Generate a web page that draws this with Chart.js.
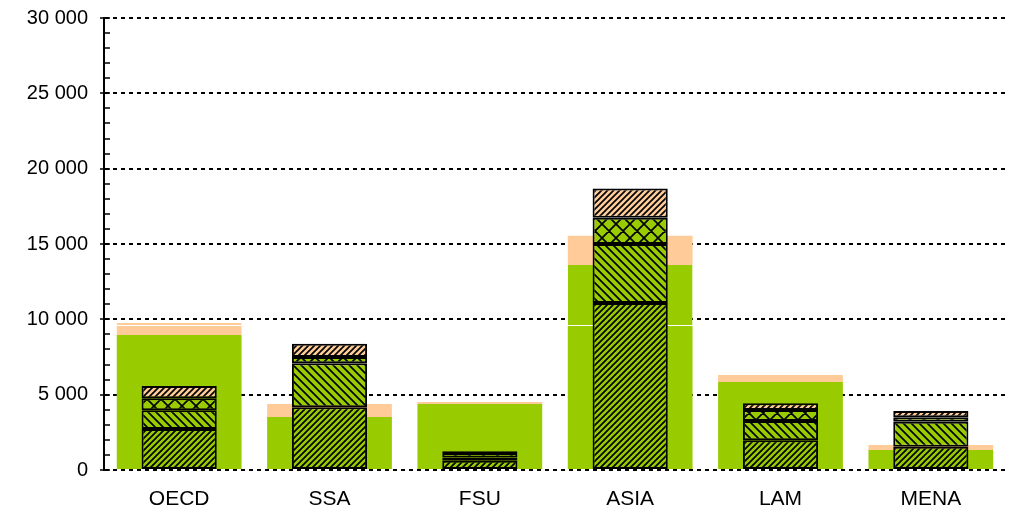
<!DOCTYPE html>
<html>
<head>
<meta charset="utf-8">
<script src="https://cdn.jsdelivr.net/npm/chart.js@4.4.1/dist/chart.umd.min.js"></script>
<style>
  html, body { margin: 0; padding: 0; background: #fff; }
  #wrap { width: 1018px; height: 513px; position: relative; }
</style>
</head>
<body>
<div id="wrap"><canvas id="regions-chart"></canvas></div>
<script>
const regions = ['OECD', 'SSA', 'FSU', 'ASIA', 'LAM', 'MENA'];

// wide background bars
const greenLow  = [8960, 3520, 4380, 9560, 5840, 1330];
const greenHigh = [null, null, null, 4050, null, null];
const peachLow  = [600, 860, 130, 1930, 465, 330];
const peachHigh = [200, null, null, null, null, null];

// narrow hatched bars, bottom to top
const layer1 = [2720, 4160, 620, 11080, 1970, 1550];
const layer2 = [1240, 2920, 210, 3920, 1280, 1660];
const layer3 = [800, 420, 300, 1750, 730, 290];
const layer4 = [815, 880, 120, 1930, 445, 420];

const yTicks = [0, 5000, 10000, 15000, 20000, 25000, 30000];

const GREEN = '#99cc00';
const PEACH = '#ffcc99';

function hatch(bg, kind, size) {
    const c = document.createElement('canvas');
    c.width = size; c.height = size;
    const g = c.getContext('2d');
    g.fillStyle = bg;
    g.fillRect(0, 0, size, size);
    g.strokeStyle = '#000';
    g.lineWidth = 1.7;
    g.beginPath();
    if (kind === 'up' || kind === 'cross') {
        g.moveTo(-1, size + 1); g.lineTo(size + 1, -1);
        g.moveTo(-2, 2); g.lineTo(2, -2);
        g.moveTo(size - 2, size + 2); g.lineTo(size + 2, size - 2);
    }
    if (kind === 'down' || kind === 'cross') {
        g.moveTo(-1, -1); g.lineTo(size + 1, size + 1);
        g.moveTo(size - 2, -2); g.lineTo(size + 2, 2);
        g.moveTo(-2, size - 2); g.lineTo(2, size + 2);
    }
    g.stroke();
    return g.createPattern(c, 'repeat');
}

const fmt = v => String(v).replace(/\B(?=(\d{3})+(?!\d))/g, ' ');

// short tick marks on the inner side of the value axis, every 1 000
const innerTicks = {
    id: 'innerTicks',
    afterDraw(chart) {
        const y = chart.scales.y;
        const left = chart.chartArea.left;
        const ctx = chart.ctx;
        ctx.save();
        ctx.strokeStyle = '#000';
        ctx.lineWidth = 1.5;
        ctx.beginPath();
        y.ticks.forEach(t => {
            const py = Math.round(y.getPixelForValue(t.value));
            ctx.moveTo(left, py);
            ctx.lineTo(left + 6, py);
        });
        ctx.stroke();
        ctx.restore();
    }
};

const wide = { stack: 'wide', barPercentage: 0.83, categoryPercentage: 1, order: 2, borderWidth: 0 };
const narrow = { stack: 'narrow', barPercentage: 0.5, categoryPercentage: 1, order: 1,
                 borderColor: '#000', borderWidth: 2, borderSkipped: false };

new Chart(document.getElementById('regions-chart'), {
    type: 'bar',
    data: {
        labels: regions,
        datasets: [
            { ...wide, label: 'green low', data: greenLow, backgroundColor: GREEN },
            { ...wide, label: 'green high', data: greenHigh, backgroundColor: GREEN,
              borderColor: '#fff', borderWidth: { top: 0, bottom: 1, left: 0, right: 0 }, borderSkipped: false },
            { ...wide, label: 'peach low', data: peachLow, backgroundColor: PEACH },
            { ...wide, label: 'peach high', data: peachHigh, backgroundColor: PEACH,
              borderColor: '#fff', borderWidth: { top: 0, bottom: 1, left: 0, right: 0 }, borderSkipped: false },
            { ...narrow, label: 'layer 1', data: layer1, backgroundColor: hatch(GREEN, 'up', 6) },
            { ...narrow, label: 'layer 2', data: layer2, backgroundColor: hatch(GREEN, 'down', 8) },
            { ...narrow, label: 'layer 3', data: layer3, backgroundColor: hatch(GREEN, 'cross', 14) },
            { ...narrow, label: 'layer 4', data: layer4, backgroundColor: hatch(PEACH, 'up', 6) }
        ]
    },
    options: {
        responsive: true,
        maintainAspectRatio: false,
        animation: false,
        events: [],
        datasets: { bar: { grouped: false } },
        layout: { padding: { top: 18, right: 12, left: 0, bottom: 0 } },
        plugins: { legend: { display: false }, tooltip: { enabled: false } },
        scales: {
            x: {
                stacked: true,
                grid: { display: false, drawTicks: false },
                border: { display: false },
                ticks: { color: '#000', padding: 17, font: { family: 'Liberation Sans', size: 21 } },
                afterFit(s) { s.height = 43; s.paddingLeft = 0; s.paddingRight = 0; }
            },
            y: {
                stacked: true,
                min: 0,
                max: 30000,
                grid: {
                    color: c => yTicks.includes(c.tick.value) ? '#000' : 'rgba(0,0,0,0)',
                    tickColor: c => yTicks.includes(c.tick.value) ? '#000' : 'rgba(0,0,0,0)',
                    lineWidth: 2,
                    tickWidth: 1.5,
                    tickBorderDash: [],
                    tickLength: 4
                },
                border: { display: true, color: '#000', width: 2, dash: [4, 4] },
                ticks: {
                    stepSize: 1000,
                    autoSkip: false,
                    color: '#000',
                    padding: 12,
                    font: { family: 'Liberation Sans', size: 20 },
                    callback: v => yTicks.includes(v) ? fmt(v) : ''
                },
                afterFit(s) { s.width = 104; s.paddingTop = 0; s.paddingBottom = 0; }
            }
        }
    },
    plugins: [innerTicks]
});
</script>
</body>
</html>
